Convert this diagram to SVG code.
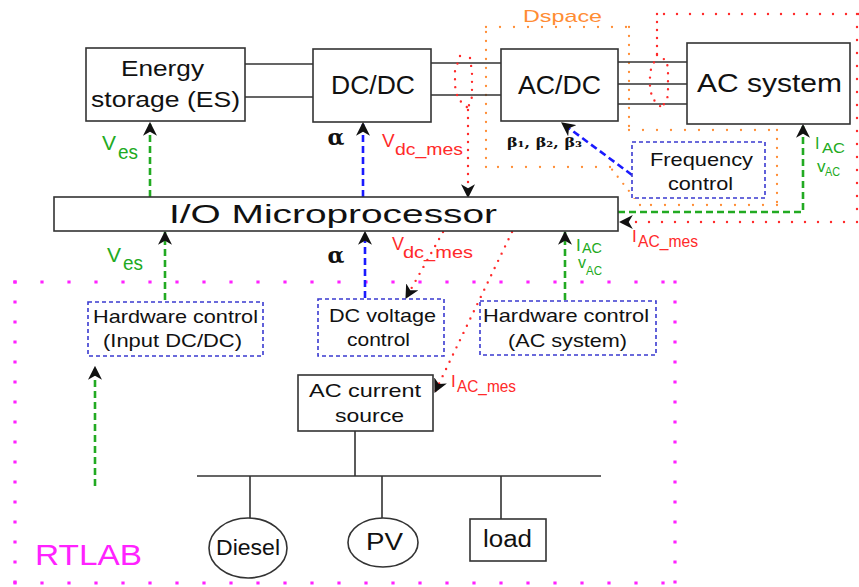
<svg xmlns="http://www.w3.org/2000/svg" width="859" height="587" viewBox="0 0 859 587">
<style>
.box{fill:#fff;stroke:#333;stroke-width:1.6}
.ln{fill:none;stroke:#333;stroke-width:1.6}
.t{font-family:"Liberation Sans",Arial,sans-serif;fill:#111}
.gt{font-family:"Liberation Sans",Arial,sans-serif;fill:#22aa22}
.rt{font-family:"Liberation Sans",Arial,sans-serif;fill:#ff2a2a}
.sym{font-family:"DejaVu Serif",serif;font-weight:bold;fill:#111}
.ctl{fill:#fff;stroke:#3a3ad0;stroke-width:1.6;stroke-dasharray:4 3}
.gd{fill:none;stroke:#22aa22;stroke-width:2.6;stroke-dasharray:7 4}
.bd{fill:none;stroke:#1a1aff;stroke-width:2.6;stroke-dasharray:7 4}
.rd{fill:none;stroke:#ff2a2a;stroke-width:2.4;stroke-linecap:round;stroke-dasharray:0 8}
.rdl{fill:none;stroke:#ff2a2a;stroke-width:2.4;stroke-linecap:round;stroke-dasharray:0 13}
.od{fill:none;stroke:#ff8c33;stroke-width:2.3;stroke-linecap:round}
.md{fill:none;stroke:#ff22ff;stroke-width:3.2;stroke-linecap:square}
</style>
<defs>
<marker id="ah" markerUnits="userSpaceOnUse" markerWidth="14" markerHeight="14" viewBox="0 0 12 12" refX="11" refY="6" orient="auto">
<path d="M0,0 L12,6 L0,12 L3.5,6 z" fill="#111"/>
</marker>
</defs>

<!-- regions -->
<g id="dspace-region">
<path class="od" stroke-dasharray="0 14" d="M486,27 H629 M629,130 H777 M777,205 H640 M610,167 H486"/>
<path class="od" stroke-dasharray="0 9" d="M486,167 V27 M629,27 V130 M777,130 V205 M640,205 L610,167"/>
<text class="t" x="523" y="22" font-size="17" textLength="79" lengthAdjust="spacingAndGlyphs" style="fill:#ff8c33">Dspace</text>
</g>
<g id="rtlab-region">
<path class="md" stroke-dasharray="0 27" d="M15,282 H675 M15,583 H675"/>
<path class="md" stroke-dasharray="0 20" d="M15,282 V583 M675,282 V587"/>
<text x="35" y="565" font-size="30" textLength="107" lengthAdjust="spacingAndGlyphs" style="font-family:'Liberation Sans',Arial,sans-serif;fill:#ff22ff">RTLAB</text>
</g>

<!-- connectors -->
<g id="connectors">
<path class="ln" d="M245,64 H313 M245,97 H313 M431,63 H501 M431,95 H501 M618,62 H687 M618,84 H687 M618,104 H687"/>
<path class="ln" d="M355,431 V476 M197,476 H601 M250,476 V518 M382,476 V518 M501,476 V519"/>
<path class="gd" d="M150,197 V123" marker-end="url(#ah)"/>
<path class="gd" d="M165,300 V232" marker-end="url(#ah)"/>
<path class="gd" d="M565,300 V232" marker-end="url(#ah)"/>
<path class="gd" d="M95,486 V367" marker-end="url(#ah)"/>
<path class="gd" d="M618,212 H803 V125" marker-end="url(#ah)"/>
<path class="bd" d="M363,197 V123" marker-end="url(#ah)"/>
<path class="bd" d="M365,298 V232" marker-end="url(#ah)"/>
<path class="bd" stroke-dasharray="8 5" d="M632,175 L562,123" marker-end="url(#ah)"/>
<path class="rd" stroke-dasharray="0 12.5" d="M460,56 L455,71 L455,86 L458,99 L468,108 M470,58 L472,72 L472,97 L468,108"/>
<path class="rd" stroke-dasharray="0 7" d="M468,110 V197" marker-end="url(#ah)"/>
<path class="rdl" d="M859,14 H657"/>
<path class="rd" stroke-dasharray="0 10" d="M657,14 V55"/>
<path class="rd" stroke-dasharray="0 12.5" d="M657,55 L650,72 L650,86 L652,98 L662,108 M657,55 L667,61 L668,73 L668,96 L662,108"/>
<path class="rdl" d="M857,14 V222"/>
<path class="rdl" d="M857,222 H620" marker-end="url(#ah)"/>
<path class="rd" d="M443,232 L406,298" marker-end="url(#ah)"/>
<path class="rd" d="M512,232 L435,392" marker-end="url(#ah)"/>
</g>

<!-- nodes -->
<g id="energy-storage">
<rect class="box" x="86" y="48" width="159" height="73"/>
<text class="t" x="121" y="76" font-size="22" textLength="83" lengthAdjust="spacingAndGlyphs">Energy</text>
<text class="t" x="91" y="107" font-size="22" textLength="149" lengthAdjust="spacingAndGlyphs">storage (ES)</text>
</g>
<g id="dcdc">
<rect class="box" x="313" y="49" width="118" height="73"/>
<text class="t" x="331" y="94" font-size="25" textLength="84" lengthAdjust="spacingAndGlyphs">DC/DC</text>
</g>
<g id="acdc">
<rect class="box" x="501" y="49" width="117" height="72"/>
<text class="t" x="518" y="94" font-size="25" textLength="83" lengthAdjust="spacingAndGlyphs">AC/DC</text>
</g>
<g id="ac-system">
<rect class="box" x="687" y="43" width="163" height="81"/>
<text class="t" x="697" y="92" font-size="26" textLength="145" lengthAdjust="spacingAndGlyphs">AC system</text>
</g>
<g id="io-microprocessor">
<rect class="box" x="54" y="197" width="564" height="34"/>
<text class="t" x="169" y="223" font-size="26" textLength="328" lengthAdjust="spacingAndGlyphs">I/O Microprocessor</text>
</g>
<g id="frequency-control">
<rect class="ctl" x="632" y="142" width="133" height="56" stroke-dasharray="3 3"/>
<text class="t" x="650" y="166" font-size="19" textLength="103" lengthAdjust="spacingAndGlyphs">Frequency</text>
<text class="t" x="668" y="190" font-size="19" textLength="65" lengthAdjust="spacingAndGlyphs">control</text>
</g>
<g id="hw-input-dcdc">
<rect class="ctl" x="88" y="302" width="175" height="54"/>
<text class="t" x="93" y="323" font-size="18.5" textLength="165" lengthAdjust="spacingAndGlyphs">Hardware control</text>
<text class="t" x="103" y="347" font-size="18.5" textLength="139" lengthAdjust="spacingAndGlyphs">(Input DC/DC)</text>
</g>
<g id="dc-voltage-control">
<rect class="ctl" x="318" y="299" width="126" height="57" stroke-dasharray="3 3"/>
<text class="t" x="329" y="322" font-size="19" textLength="107" lengthAdjust="spacingAndGlyphs">DC voltage</text>
<text class="t" x="347" y="346" font-size="19" textLength="63" lengthAdjust="spacingAndGlyphs">control</text>
</g>
<g id="hw-ac-system">
<rect class="ctl" x="480" y="301" width="176" height="54" stroke-dasharray="6 3"/>
<text class="t" x="483" y="322" font-size="18.5" textLength="166" lengthAdjust="spacingAndGlyphs">Hardware control</text>
<text class="t" x="508" y="347" font-size="18.5" textLength="119" lengthAdjust="spacingAndGlyphs">(AC system)</text>
</g>
<g id="ac-current-source">
<rect class="box" x="298" y="375" width="135" height="56"/>
<text class="t" x="309" y="397" font-size="19" textLength="112" lengthAdjust="spacingAndGlyphs">AC current</text>
<text class="t" x="335" y="422" font-size="19" textLength="69" lengthAdjust="spacingAndGlyphs">source</text>
</g>
<g id="diesel">
<ellipse class="box" cx="248" cy="548" rx="39" ry="30"/>
<text class="t" x="216" y="555" font-size="22" textLength="64" lengthAdjust="spacingAndGlyphs">Diesel</text>
</g>
<g id="pv">
<ellipse class="box" cx="383" cy="542.5" rx="35" ry="24.5"/>
<text class="t" x="366" y="550" font-size="23" textLength="37" lengthAdjust="spacingAndGlyphs">PV</text>
</g>
<g id="load">
<rect class="box" x="470" y="519" width="76" height="42"/>
<text class="t" x="483" y="547" font-size="23" textLength="49" lengthAdjust="spacingAndGlyphs">load</text>
</g>

<!-- labels -->
<g id="labels">
<text class="gt" x="102" y="150" font-size="21">V</text>
<text class="gt" x="118" y="159" font-size="20" textLength="20" lengthAdjust="spacingAndGlyphs">es</text>
<text class="gt" x="107" y="262" font-size="21">V</text>
<text class="gt" x="123" y="270" font-size="20" textLength="20" lengthAdjust="spacingAndGlyphs">es</text>
<text class="sym" x="336" y="145" font-size="22" text-anchor="middle">α</text>
<text class="sym" x="336" y="263" font-size="22" text-anchor="middle">α</text>
<text class="rt" x="382" y="147" font-size="19">V</text>
<text class="rt" x="395" y="155" font-size="17" textLength="68" lengthAdjust="spacingAndGlyphs">dc_mes</text>
<text class="rt" x="392" y="250" font-size="18">V</text>
<text class="rt" x="403" y="258" font-size="17" textLength="70" lengthAdjust="spacingAndGlyphs">dc_mes</text>
<text class="rt" x="632" y="242" font-size="17">I</text>
<text class="rt" x="638" y="247" font-size="17" textLength="60" lengthAdjust="spacingAndGlyphs">AC_mes</text>
<text class="rt" x="451" y="387" font-size="17">I</text>
<text class="rt" x="457" y="392" font-size="17" textLength="59" lengthAdjust="spacingAndGlyphs">AC_mes</text>
<text class="gt" x="815" y="149" font-size="16">I</text>
<text class="gt" x="822" y="153" font-size="15" textLength="23" lengthAdjust="spacingAndGlyphs">AC</text>
<text class="gt" x="817" y="172" font-size="17">v</text>
<text class="gt" x="825" y="176" font-size="12" textLength="15" lengthAdjust="spacingAndGlyphs">AC</text>
<text class="gt" x="576" y="251" font-size="17">I</text>
<text class="gt" x="582" y="253" font-size="14" textLength="20" lengthAdjust="spacingAndGlyphs">AC</text>
<text class="gt" x="578" y="268" font-size="16">v</text>
<text class="gt" x="586" y="275" font-size="12.5" textLength="16" lengthAdjust="spacingAndGlyphs">AC</text>
<text class="sym" x="507" y="147" font-size="13" textLength="75" lengthAdjust="spacingAndGlyphs">β₁, β₂, β₃</text>
</g>
</svg>
